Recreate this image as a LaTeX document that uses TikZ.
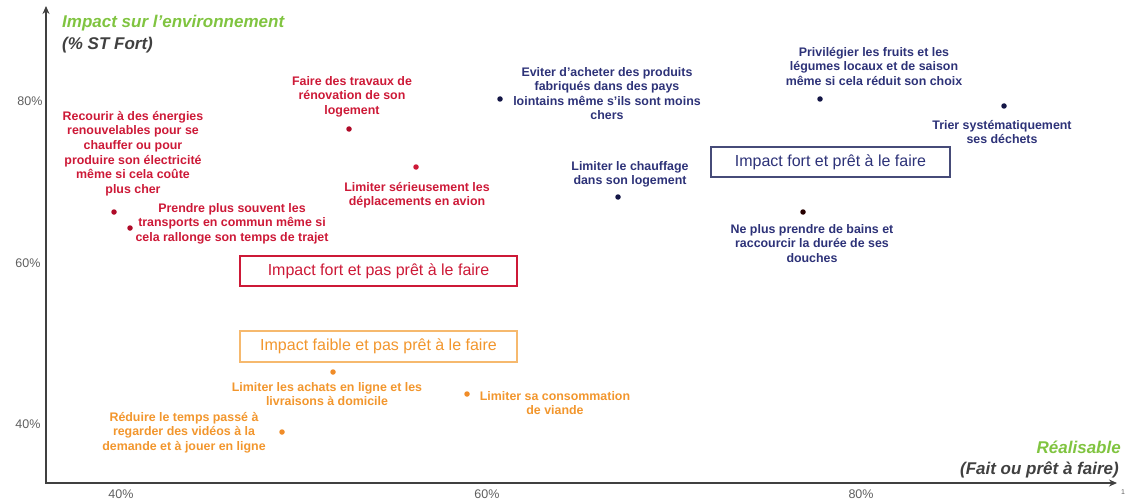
\documentclass[tikz,border=0pt]{standalone}
\usepackage{fontspec}
\setmainfont{Liberation Sans}
\usetikzlibrary{arrows.meta}
\definecolor{ttlgreen}{RGB}{128,196,64}
\definecolor{axgray}{RGB}{64,64,64}
\definecolor{tickgray}{RGB}{95,95,95}
\definecolor{redtxt}{RGB}{205,25,55}
\definecolor{reddot}{RGB}{175,10,40}
\definecolor{navytxt}{RGB}{45,50,120}
\definecolor{navydot}{RGB}{20,22,70}
\definecolor{orgtxt}{RGB}{242,150,45}
\definecolor{orgdot}{RGB}{240,140,40}
\definecolor{orgbox}{RGB}{246,185,110}
\definecolor{navybox}{RGB}{70,75,120}
\tikzset{
  lbl/.style={anchor=north, inner sep=0pt, align=center, font=\fontsize{12.4}{14.6}\selectfont\bfseries, execute at begin node=\strut},
  redlbl/.style={lbl, text=redtxt},
  navylbl/.style={lbl, text=navytxt},
  orglbl/.style={lbl, text=orgtxt},
  dot/.style={circle, inner sep=0pt, minimum size=5.5pt},
  reddotst/.style={dot, fill=reddot},
  navydotst/.style={dot, fill=navydot},
  orgdotst/.style={dot, fill=orgdot},
  qbox/.style={draw, line width=1.5pt, inner sep=0pt, fill=white, font=\fontsize{16}{18}\selectfont},
  tick/.style={inner sep=0pt, text=tickgray, font=\fontsize{12.5}{14}\selectfont},
  ttl/.style={inner sep=0pt, font=\fontsize{17}{20}\selectfont\bfseries\itshape},
  axis/.style={draw=axgray, line width=1.8pt, {Stealth[length=8pt,width=7pt]}-{Stealth[length=8pt,width=7pt]}}
}
\begin{document}
\begin{tikzpicture}[x=1pt, y=-1pt]
\useasboundingbox (0,0) rectangle (1126,500);
% axes
\coordinate (ytop) at (46,6);
\coordinate (origin) at (46,483);
\coordinate (xend) at (1117,483);
\draw[axis] (ytop) -- (origin) -- (xend);
% titles
\node[ttl, text=ttlgreen, anchor=base west] (ttly) at (62,28) {Impact sur l’environnement};
\node[ttl, text=axgray, anchor=base west] (ttly2) at (62,50) {(\% ST Fort)};
\node[ttl, text=ttlgreen, anchor=base east] (ttlx) at (1121,453) {Réalisable};
\node[ttl, text=axgray, anchor=base east] (ttlx2) at (1119,474) {(Fait ou prêt à faire)};
% ticks
\node[tick] (y80) at (30,101) {80\%};
\node[tick] (y60) at (28,263) {60\%};
\node[tick] (y40) at (28,424) {40\%};
\node[tick] (x40) at (121,494) {40\%};
\node[tick] (x60) at (487,494) {60\%};
\node[tick] (x80) at (861,494) {80\%};
\node[tick, font=\fontsize{7}{8}\selectfont] (x1) at (1123,492) {1};
% boxes
\node[qbox, draw=navybox, text=navytxt, minimum width=239pt, minimum height=30pt] (bnavy) at (830.5,162) {Impact fort et prêt à le faire};
\node[qbox, draw=redtxt, text=redtxt, minimum width=277pt, minimum height=30pt] (bred) at (378.5,271) {Impact fort et pas prêt à le faire};
\node[qbox, draw=orgbox, text=orgtxt, minimum width=277pt, minimum height=31pt] (borg) at (378.5,346.5) {Impact faible et pas prêt à le faire};
% red items
\node[reddotst] (d1) at (114,212) {};
\node[redlbl] (l1) at (133,111) {Recourir à des énergies\\renouvelables pour se\\chauffer ou pour\\produire son électricité\\même si cela coûte\\plus cher};
\node[reddotst] (d2) at (130,228) {};
\node[redlbl] (l2) at (232,203) {Prendre plus souvent les\\transports en commun même si\\cela rallonge son temps de trajet};
\node[reddotst] (d3) at (349,129) {};
\node[redlbl] (l3) at (352,76) {Faire des travaux de\\rénovation de son\\logement};
\node[reddotst, fill=redtxt] (d4) at (416,167) {};
\node[redlbl] (l4) at (417,182) {Limiter sérieusement les\\déplacements en avion};
% navy items
\node[navydotst] (d5) at (500,99) {};
\node[navylbl] (l5) at (607,67) {Eviter d'acheter des produits\\fabriqués dans des pays\\lointains même s'ils sont moins\\chers};
\node[navydotst] (d6) at (618,197) {};
\node[navylbl] (l6) at (630,161) {Limiter le chauffage\\dans son logement};
\node[navydotst] (d7) at (820,99) {};
\node[navylbl] (l7) at (874,47) {Privilégier les fruits et les\\légumes locaux et de saison\\même si cela réduit son choix};
\node[navydotst] (d8) at (1004,106) {};
\node[navylbl] (l8) at (1002,120) {Trier systématiquement\\ses déchets};
\node[navydotst, fill=black!85!red] (d9) at (803,212) {};
\node[navylbl] (l9) at (812,224) {Ne plus prendre de bains et\\raccourcir la durée de ses\\douches};
% orange items
\node[orgdotst] (d10) at (333,372) {};
\node[orglbl] (l10) at (327,382) {Limiter les achats en ligne et les\\livraisons à domicile};
\node[orgdotst] (d11) at (467,394) {};
\node[orglbl] (l11) at (555,391) {Limiter sa consommation\\de viande};
\node[orgdotst] (d12) at (282,432) {};
\node[orglbl] (l12) at (184,412) {Réduire le temps passé à\\regarder des vidéos à la\\demande et à jouer en ligne};
\end{tikzpicture}
\end{document}
